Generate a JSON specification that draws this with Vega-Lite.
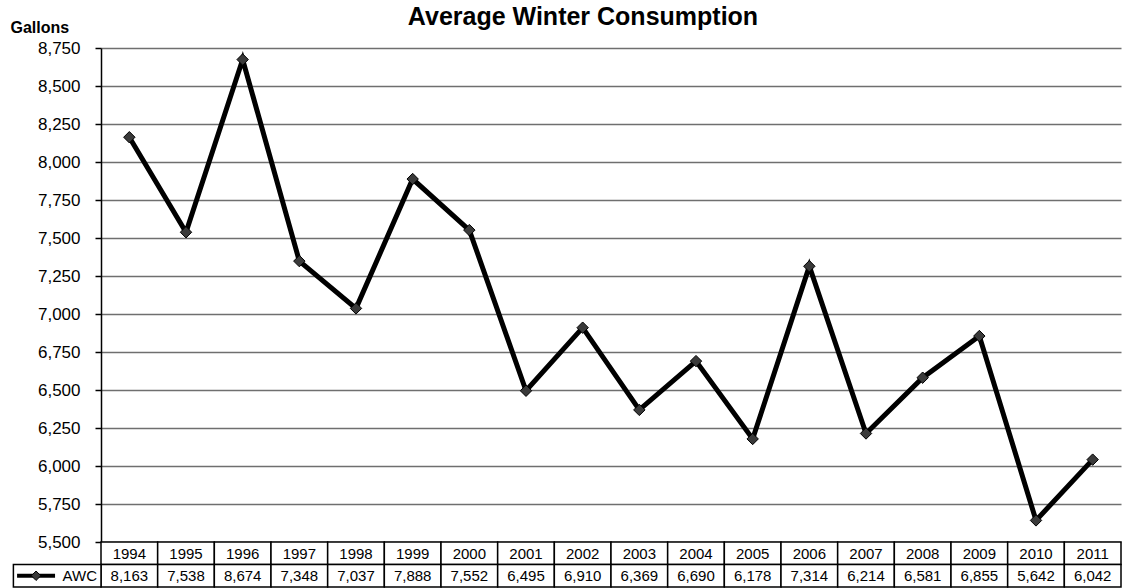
{
  "$schema": "https://vega.github.io/schema/vega-lite/v6.json",
  "background": "white",
  "padding": {"left": 10, "top": 5, "right": 0, "bottom": 0},
  "config": {
    "view": {"stroke": null},
    "font": "Liberation Sans",
    "concat": {"spacing": 0}
  },
  "datasets": {
    "awc": [
      {"year": 1994, "awc": 8163},
      {"year": 1995, "awc": 7538},
      {"year": 1996, "awc": 8674},
      {"year": 1997, "awc": 7348},
      {"year": 1998, "awc": 7037},
      {"year": 1999, "awc": 7888},
      {"year": 2000, "awc": 7552},
      {"year": 2001, "awc": 6495},
      {"year": 2002, "awc": 6910},
      {"year": 2003, "awc": 6369},
      {"year": 2004, "awc": 6690},
      {"year": 2005, "awc": 6178},
      {"year": 2006, "awc": 7314},
      {"year": 2007, "awc": 6214},
      {"year": 2008, "awc": 6581},
      {"year": 2009, "awc": 6855},
      {"year": 2010, "awc": 5642},
      {"year": 2011, "awc": 6042}
    ],
    "series": [{"series": "AWC"}]
  },
  "spacing": 0,
  "bounds": "flush",
  "vconcat": [
    {
      "width": 1020,
      "height": 494,
      "title": {
        "text": "Average Winter Consumption",
        "fontSize": 25,
        "fontWeight": "bold",
        "font": "Liberation Sans",
        "color": "black",
        "anchor": "middle",
        "dx": -28,
        "baseline": "alphabetic",
        "offset": -31
      },
      "data": {"name": "awc"},
      "encoding": {
        "x": {
          "field": "year",
          "type": "quantitative",
          "scale": {"domain": [1993.5, 2011.5], "nice": false, "zero": false},
          "axis": null
        },
        "y": {
          "field": "awc",
          "type": "quantitative",
          "scale": {"domain": [5500, 8750], "nice": false, "zero": false},
          "axis": {
            "values": [5500, 5750, 6000, 6250, 6500, 6750, 7000, 7250, 7500, 7750, 8000, 8250, 8500, 8750],
            "format": ",d",
            "labelFontSize": 17,
            "labelFont": "Liberation Sans",
            "labelColor": "black",
            "labelPadding": 15,
            "labelOverlap": false,
            "tickSize": 6,
            "tickColor": "black",
            "tickWidth": 1.5,
            "domainColor": "black",
            "domainWidth": 1.5,
            "grid": true,
            "gridColor": "#6f6f6f",
            "gridWidth": 1.3,
            "gridOpacity": 1,
            "title": "Gallons",
            "titleAngle": 0,
            "titleAlign": "left",
            "titleBaseline": "alphabetic",
            "titleX": -91,
            "titleY": -16,
            "titleFont": "Liberation Sans",
            "titleFontSize": 16,
            "titleFontWeight": "bold",
            "titleColor": "black"
          }
        }
      },
      "layer": [
        {"mark": {"type": "line", "color": "black", "strokeWidth": 5, "strokeJoin": "miter"}},
        {
          "mark": {
            "type": "point",
            "shape": "diamond",
            "filled": true,
            "fill": "#3a3a3a",
            "stroke": "black",
            "strokeWidth": 1,
            "size": 130,
            "opacity": 1
          }
        }
      ]
    },
    {
      "width": 1020,
      "height": 45,
      "layer": [
        {
          "data": {"name": "awc"},
          "transform": [
            {"calculate": "datum.year - 0.5", "as": "lo"},
            {"calculate": "datum.year + 0.5", "as": "hi"}
          ],
          "layer": [
            {
              "mark": {"type": "rect", "fill": "white", "stroke": "black", "strokeWidth": 1.5},
              "encoding": {
                "x": {
                  "field": "lo",
                  "type": "quantitative",
                  "scale": {"domain": [1993.5, 2011.5], "nice": false, "zero": false},
                  "axis": null
                },
                "x2": {"field": "hi"},
                "y": {
                  "datum": "Year",
                  "type": "nominal",
                  "scale": {"domain": ["Year", "AWC"], "paddingInner": 0, "paddingOuter": 0},
                  "axis": null
                }
              }
            },
            {
              "mark": {"type": "rect", "fill": "white", "stroke": "black", "strokeWidth": 1.5},
              "encoding": {
                "x": {"field": "lo", "type": "quantitative"},
                "x2": {"field": "hi"},
                "y": {"datum": "AWC", "type": "nominal"}
              }
            },
            {
              "mark": {"type": "text", "fontSize": 15, "color": "black", "baseline": "middle", "dy": 1},
              "encoding": {
                "x": {"field": "year", "type": "quantitative"},
                "y": {"datum": "Year", "type": "nominal"},
                "text": {"field": "year", "type": "nominal"}
              }
            },
            {
              "mark": {"type": "text", "fontSize": 15, "color": "black", "baseline": "middle"},
              "encoding": {
                "x": {"field": "year", "type": "quantitative"},
                "y": {"datum": "AWC", "type": "nominal"},
                "text": {"field": "awc", "type": "quantitative", "format": ",d"}
              }
            }
          ]
        },
        {
          "data": {"name": "series"},
          "layer": [
            {
              "mark": {"type": "rect", "fill": "white", "stroke": "black", "strokeWidth": 1.5},
              "encoding": {
                "x": {"datum": 1991.954, "type": "quantitative"},
                "x2": {"datum": 1993.5},
                "y": {"datum": "AWC", "type": "nominal"}
              }
            },
            {
              "mark": {"type": "rule", "color": "black", "strokeWidth": 4},
              "encoding": {
                "x": {"datum": 1992.019, "type": "quantitative"},
                "x2": {"datum": 1992.689},
                "y": {"datum": "AWC", "type": "nominal"}
              }
            },
            {
              "mark": {
                "type": "point",
                "shape": "diamond",
                "filled": true,
                "fill": "#3a3a3a",
                "stroke": "black",
                "strokeWidth": 1,
                "size": 90,
                "opacity": 1
              },
              "encoding": {
                "x": {"datum": 1992.354, "type": "quantitative"},
                "y": {"datum": "AWC", "type": "nominal"}
              }
            },
            {
              "mark": {"type": "text", "fontSize": 15, "color": "black", "baseline": "middle", "align": "right"},
              "encoding": {
                "x": {"datum": 1993.43, "type": "quantitative"},
                "y": {"datum": "AWC", "type": "nominal"},
                "text": {"field": "series", "type": "nominal"}
              }
            }
          ]
        }
      ]
    }
  ]
}
